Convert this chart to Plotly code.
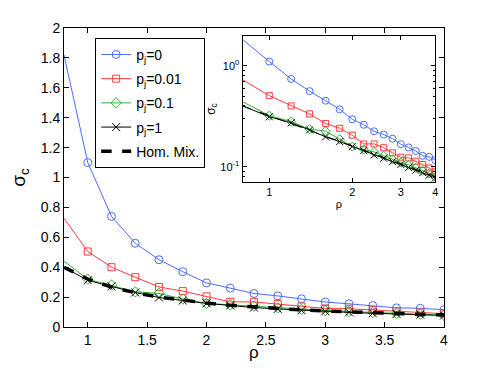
import plotly.graph_objects as go

# rho grid (first point at 0.8 has no marker in the original)
rho = [0.8, 1.0, 1.2, 1.4, 1.6, 1.8, 2.0, 2.2, 2.4, 2.6, 2.8, 3.0, 3.2, 3.4, 3.6, 3.8, 4.0]

sigma_p0 = [1.82, 1.10, 0.74, 0.56, 0.45, 0.37, 0.295, 0.26, 0.224, 0.208, 0.189, 0.167, 0.155, 0.143, 0.128, 0.125, 0.116]
sigma_p001 = [0.727, 0.505, 0.40, 0.333, 0.268, 0.240, 0.205, 0.168, 0.168, 0.154, 0.137, 0.124, 0.122, 0.113, 0.105, 0.097, 0.089]
sigma_p01 = [0.44, 0.32, 0.28, 0.235, 0.225, 0.187, 0.158, 0.148, 0.140, 0.128, 0.118, 0.110, 0.104, 0.097, 0.091, 0.086, 0.079]
sigma_p1 = [0.40, 0.312, 0.272, 0.231, 0.197, 0.177, 0.158, 0.144, 0.130, 0.121, 0.112, 0.105, 0.098, 0.092, 0.087, 0.082, 0.077]
sigma_hom = [0.400, 0.320, 0.267, 0.229, 0.200, 0.178, 0.160, 0.145, 0.133, 0.123, 0.114, 0.107, 0.100, 0.094, 0.089, 0.084, 0.080]

series = [
    ("p<sub>j</sub>=0", sigma_p0, "#4a6cff", "circle-open", 8),
    ("p<sub>j</sub>=0.01", sigma_p001, "#ff3b3b", "square-open", 7),
    ("p<sub>j</sub>=0.1", sigma_p01, "#2fb52f", "diamond-open", 8),
    ("p<sub>j</sub>=1", sigma_p1, "#000000", "x-thin-open", 8),
]

FONT = "Liberation Sans, Arial, sans-serif"

fig = go.Figure()

for xa, ya, main in [("x", "y", True), ("x2", "y2", False)]:
    for i, (name, vals, color, symbol, size) in enumerate(series):
        grp = "g%d" % i
        # short segment from rho=0.8 without marker
        fig.add_trace(go.Scatter(
            x=rho[:2], y=vals[:2], mode="lines", legendgroup=grp,
            line=dict(color=color, width=1),
            showlegend=False, hoverinfo="skip", xaxis=xa, yaxis=ya))
        fig.add_trace(go.Scatter(
            x=rho[1:], y=vals[1:], mode="lines+markers", name=name, legendgroup=grp,
            line=dict(color=color, width=1),
            marker=dict(symbol=symbol, size=size if main else size - 1,
                        color=color, line=dict(color=color, width=1)),
            showlegend=main, xaxis=xa, yaxis=ya))
    fig.add_trace(go.Scatter(
        x=rho, y=sigma_hom, mode="lines", name="Hom. Mix.", legendgroup="hom",
        line=dict(color="black", width=3.5 if main else 1, dash="dash"),
        showlegend=main, xaxis=xa, yaxis=ya))

axis_common = dict(showline=True, linecolor="black", linewidth=1, mirror="ticks",
                   ticks="inside", tickcolor="black", showgrid=False, zeroline=False,
                   automargin=False)

# page body adds an 8px margin, so the figure is a bit smaller than the window
fig.update_layout(
    width=475, height=353,
    margin=dict(l=56, r=39, t=20, b=34),
    paper_bgcolor="white", plot_bgcolor="white",
    font=dict(family=FONT, color="black", size=14),
    xaxis=dict(range=[0.8, 4], dtick=0.5, tick0=0, ticklen=5, **axis_common),
    yaxis=dict(range=[0, 2], dtick=0.2, tick0=0, ticklen=5,
               title=dict(text="σ<sub>c</sub>", font=dict(size=19), standoff=14), **axis_common),
    xaxis2=dict(type="log", domain=[0.470, 0.977], anchor="y2",
                range=[-0.0969, 0.602], tickvals=[1, 2, 3, 4], ticktext=["1", "2", "3", "4"],
                ticklen=4, tickfont=dict(size=11),
                title=dict(text="ρ", font=dict(size=11), standoff=2), **axis_common),
    yaxis2=dict(type="log", domain=[0.484, 0.974], anchor="x2",
                range=[-1.155, 0.297], tickvals=[0.1, 1],
                ticktext=["10<sup>-1</sup>", "10<sup>0</sup>"],
                ticklen=4, tickfont=dict(size=11),
                minor=dict(ticks="inside", ticklen=2, tickcolor="black",
                           tickvals=[0.07, 0.08, 0.09, 0.2, 0.3, 0.4, 0.5, 0.6, 0.7, 0.8, 0.9]),
                title=dict(text="σ<sub>c</sub>", font=dict(size=12), standoff=2), **axis_common),
    legend=dict(x=0.082, y=0.967, xanchor="left", yanchor="top",
                bgcolor="white", bordercolor="black", borderwidth=1,
                font=dict(size=14), tracegroupgap=3),
    showlegend=True,
)

# main x-axis label placed as an annotation so it stays inside the page
fig.add_annotation(text="ρ", xref="paper", yref="paper", x=0.5, y=-0.084,
                   xanchor="center", yanchor="middle", showarrow=False,
                   font=dict(size=17))

fig.write_html("out.html", config={"displayModeBar": False})
